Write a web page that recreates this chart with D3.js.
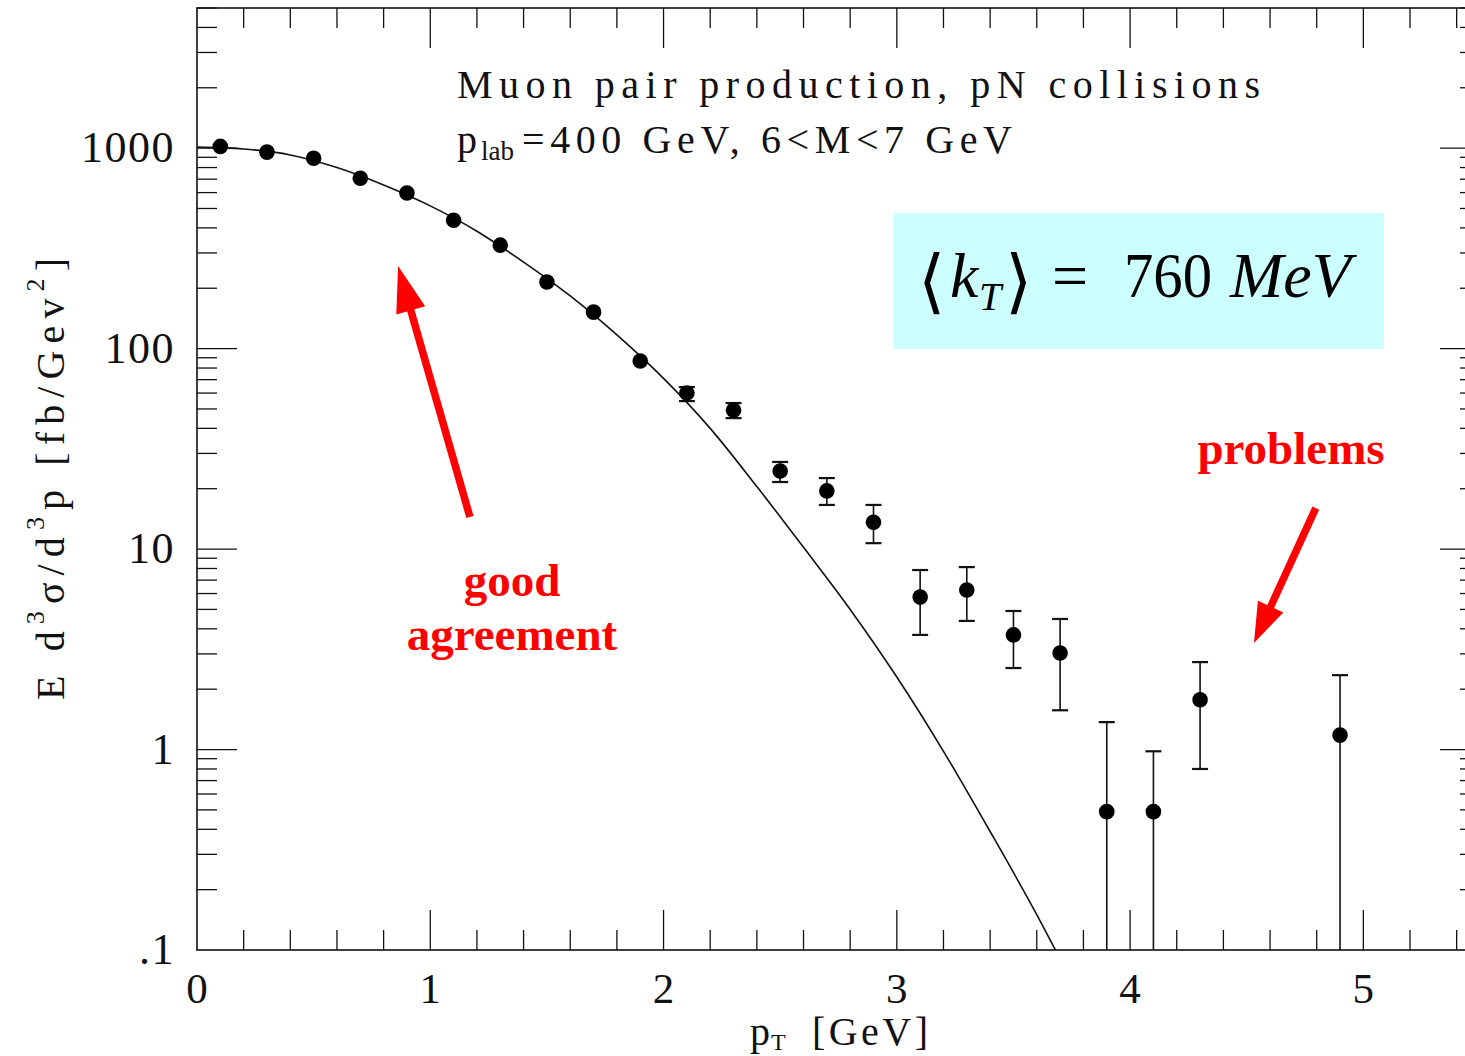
<!DOCTYPE html>
<html>
<head>
<meta charset="utf-8">
<script src="https://cdn.jsdelivr.net/npm/d3@7"></script>
<style>
  html, body { margin: 0; padding: 0; background: #fff; }
  svg { display: block; }
</style>
</head>
<body>
<svg id="chart" width="1465" height="1056"></svg>
<script>
// Measured dimuon cross section vs transverse momentum
const pT    = [0.1, 0.3, 0.5, 0.7, 0.9, 1.1, 1.3, 1.5, 1.7, 1.9, 2.1, 2.3, 2.5, 2.7, 2.9, 3.1, 3.3, 3.5, 3.7, 3.9, 4.1, 4.3, 4.9];
const xsec  = [1020, 955, 890, 708, 597, 437, 328, 215, 152, 86.7, 60.0, 49.3, 24.5, 19.5, 13.6, 5.76, 6.25, 3.73, 3.03, 0.49, 0.49, 1.77, 1.18];
// upper / lower ends of the error bars (null: hidden by the marker, 0: below the axis)
const errUp   = [null, null, null, null, null, null, null, null, null, null, 64.3, 53.5, 27.2, 22.6, 16.6, 7.86, 8.13, 4.91, 4.48, 1.37, 0.98, 2.73, 2.35];
const errDown = [null, null, null, null, null, null, null, null, null, null, 54.7, 45.0, 21.6, 16.6, 10.7, 3.73, 4.38, 2.55, 1.57, 0, 0, 0.80, 0];

// Theory curve, <kT> = 760 MeV
const curveX = [0, 0.2, 0.4, 0.6, 0.8, 1.0, 1.2, 1.4, 1.6, 1.8, 2.0, 2.2, 2.4, 2.6, 2.8, 3.0, 3.2, 3.4, 3.6, 3.68];
const curveY = [1012, 990, 925, 800, 655, 515, 385, 270, 183, 117, 71, 40, 20.5, 10.2, 5.0, 2.3, 0.98, 0.39, 0.15, 0.1];

// Axis ticks and labels
const xMajorTicks = [0, 1, 2, 3, 4, 5];
const xTickLabels = ["0", "1", "2", "3", "4", "5"];
const yMajorTicks = [1000, 100, 10, 1, 0.1];
const yTickLabels = ["1000", "100", "10", "1", ".1"];

const svg = d3.select("#chart");
const W = 1465, H = 1056;
svg.append("rect").attr("width", W).attr("height", H).attr("fill", "#fff");

const plotL = 197, plotR = 1480, plotT = 8, plotB = 950;
const x = d3.scaleLinear().domain([0, 5.5]).range([plotL, plotR]);
const y = d3.scaleLog().domain([0.1, 5000]).range([plotB, plotT]);

const serif = "'Liberation Serif', 'Times New Roman', serif";
const ink = "#111";

svg.append("defs").append("clipPath").attr("id", "plotClip")
  .append("rect").attr("x", plotL).attr("y", plotT).attr("width", plotR - plotL).attr("height", plotB - plotT);

// frame
svg.append("rect")
  .attr("x", plotL).attr("y", plotT).attr("width", plotR - plotL).attr("height", plotB - plotT)
  .attr("fill", "none").attr("stroke", ink).attr("stroke-width", 1.6);

// ticks on all four sides
const xMinor = d3.range(1, 28).map(i => +(i * 0.2).toFixed(1)).filter(v => !xMajorTicks.includes(v));
const yMinor = [];
[0.1, 1, 10, 100, 1000].forEach(d => { for (let k = 2; k <= 9; k++) { const v = d * k; if (v <= 5000) yMinor.push(v); } });

const tickG = svg.append("g").attr("stroke", ink).attr("stroke-width", 1.3);
function xTicks(vals, len) {
  vals.forEach(v => {
    tickG.append("line").attr("x1", x(v)).attr("x2", x(v)).attr("y1", plotB).attr("y2", plotB - len);
    tickG.append("line").attr("x1", x(v)).attr("x2", x(v)).attr("y1", plotT).attr("y2", plotT + len);
  });
}
function yTicks(vals, len) {
  vals.forEach(v => {
    tickG.append("line").attr("y1", y(v)).attr("y2", y(v)).attr("x1", plotL).attr("x2", plotL + len);
    tickG.append("line").attr("y1", y(v)).attr("y2", y(v)).attr("x1", plotR).attr("x2", plotR - len);
  });
}
xTicks(xMajorTicks.filter(v => v > 0), 40);
xTicks(xMinor, 20);
yTicks(yMajorTicks.filter(v => v > 0.1), 40);
yTicks(yMinor, 20);

// tick labels
svg.append("g").selectAll("text").data(xMajorTicks).join("text")
  .attr("x", d => x(d)).attr("y", 1003)
  .attr("text-anchor", "middle")
  .attr("font-family", serif).attr("font-size", 43).attr("fill", ink)
  .text((d, i) => xTickLabels[i]);

svg.append("g").selectAll("text").data(yMajorTicks).join("text")
  .attr("x", 175).attr("y", d => y(d) + 14)
  .attr("text-anchor", "end")
  .attr("font-family", serif).attr("font-size", 44).attr("fill", ink)
  .attr("letter-spacing", 1.5)
  .text((d, i) => yTickLabels[i]);

// axis titles
const xt = svg.append("g").attr("font-family", serif).attr("fill", ink);
xt.append("text").attr("x", 750).attr("y", 1045).attr("font-size", 40).text("p");
xt.append("text").attr("x", 771).attr("y", 1050).attr("font-size", 24).text("T");
xt.append("text").attr("x", 812).attr("y", 1045).attr("font-size", 40)
  .attr("textLength", 116).attr("lengthAdjust", "spacing").text("[GeV]");

const yt = svg.append("text")
  .attr("transform", "translate(64,479) rotate(-90)")
  .attr("text-anchor", "middle")
  .attr("font-family", serif).attr("font-size", 40).attr("fill", ink)
  .attr("textLength", 442).attr("lengthAdjust", "spacing");
yt.append("tspan").text("E d");
yt.append("tspan").attr("font-size", 26).attr("dy", -20).text("3");
yt.append("tspan").attr("dy", 20).text("σ/d");
yt.append("tspan").attr("font-size", 26).attr("dy", -20).text("3");
yt.append("tspan").attr("dy", 20).text("p [fb/Gev");
yt.append("tspan").attr("font-size", 26).attr("dy", -20).text("2");
yt.append("tspan").attr("dy", 20).text("]");

// header text
const hd = svg.append("g").attr("font-family", serif).attr("fill", ink);
hd.append("text")
  .attr("x", 457).attr("y", 98).attr("font-size", 40)
  .attr("textLength", 803).attr("lengthAdjust", "spacing")
  .text("Muon pair production, pN collisions");
hd.append("text").attr("x", 457).attr("y", 153).attr("font-size", 40).text("p");
hd.append("text").attr("x", 481).attr("y", 160).attr("font-size", 27).text("lab");
hd.append("text")
  .attr("x", 522).attr("y", 153).attr("font-size", 40)
  .attr("textLength", 490).attr("lengthAdjust", "spacing")
  .text("=400 GeV, 6<M<7 GeV");

// theory curve
const line = d3.line().x((d, i) => x(curveX[i])).y(d => y(d)).curve(d3.curveMonotoneX);
svg.append("path")
  .attr("clip-path", "url(#plotClip)")
  .attr("d", line(curveY))
  .attr("fill", "none").attr("stroke", ink).attr("stroke-width", 1.6);

// error bars
const eb = svg.append("g").attr("clip-path", "url(#plotClip)").attr("stroke", ink).attr("stroke-width", 1.6);
pT.forEach((p, i) => {
  if (errUp[i] === null) return;
  const cx = x(p);
  const yTop = y(errUp[i]);
  const below = errDown[i] <= y.domain()[0];
  const yBot = below ? plotB : y(errDown[i]);
  eb.append("line").attr("x1", cx).attr("x2", cx).attr("y1", yTop).attr("y2", yBot);
  eb.append("line").attr("x1", cx - 8).attr("x2", cx + 8).attr("y1", yTop).attr("y2", yTop).attr("stroke-width", 2.2);
  if (!below) eb.append("line").attr("x1", cx - 8).attr("x2", cx + 8).attr("y1", yBot).attr("y2", yBot).attr("stroke-width", 2.2);
});

// data points
svg.append("g").selectAll("circle").data(xsec).join("circle")
  .attr("cx", (d, i) => x(pT[i])).attr("cy", d => y(d))
  .attr("r", 7.8).attr("fill", "#000");

// <kT> box
svg.append("rect")
  .attr("x", 893).attr("y", 213).attr("width", 491).attr("height", 136)
  .attr("fill", "#ccffff");
const kt = svg.append("g").attr("font-family", serif).attr("fill", "#000");
kt.append("text").attr("x", 918).attr("y", 305).attr("font-family", "'DejaVu Sans', sans-serif")
  .attr("font-size", 70).attr("font-weight", 200).text("⟨");
kt.append("text").attr("x", 950).attr("y", 297).attr("font-size", 64).attr("font-style", "italic").text("k");
kt.append("text").attr("x", 979).attr("y", 310).attr("font-size", 40).attr("font-style", "italic").text("T");
kt.append("text").attr("x", 1005).attr("y", 305).attr("font-family", "'DejaVu Sans', sans-serif")
  .attr("font-size", 70).attr("font-weight", 200).text("⟩");
kt.append("text").attr("x", 1052).attr("y", 297).attr("font-size", 64).text("=");
kt.append("text").attr("x", 1124).attr("y", 297).attr("font-size", 64)
  .attr("textLength", 88).attr("lengthAdjust", "spacingAndGlyphs").text("760");
kt.append("text").attr("x", 1230).attr("y", 297).attr("font-size", 64).attr("font-style", "italic").text("MeV");

// annotations
const red = "#ff0000";
function arrow(from, to, headLen, headW, shaftW) {
  const x0 = x(from[0]), y0 = y(from[1]), x1 = x(to[0]), y1 = y(to[1]);
  const dx = x1 - x0, dy = y1 - y0, L = Math.hypot(dx, dy);
  const ux = dx / L, uy = dy / L, nx = -uy, ny = ux;
  const bx = x1 - ux * headLen, by = y1 - uy * headLen;
  svg.append("line").attr("x1", x0).attr("y1", y0).attr("x2", bx + ux * 2).attr("y2", by + uy * 2)
    .attr("stroke", red).attr("stroke-width", shaftW);
  svg.append("path")
    .attr("d", `M${x1},${y1}L${bx + nx * headW / 2},${by + ny * headW / 2}L${bx - nx * headW / 2},${by - ny * headW / 2}Z`)
    .attr("fill", red);
}
arrow([1.170, 14.45], [0.862, 258], 46, 30, 7.5);
arrow([4.796, 16.0], [4.531, 3.40], 40, 28, 7.5);

const note = svg.append("g").attr("font-family", serif).attr("font-weight", "bold")
  .attr("fill", red).attr("text-anchor", "middle");
note.append("text").attr("x", 512).attr("y", 596).attr("font-size", 47).text("good");
note.append("text").attr("x", 512).attr("y", 650).attr("font-size", 47).text("agreement");
note.append("text").attr("x", 1291).attr("y", 464).attr("font-size", 47).text("problems");
</script>
</body>
</html>
